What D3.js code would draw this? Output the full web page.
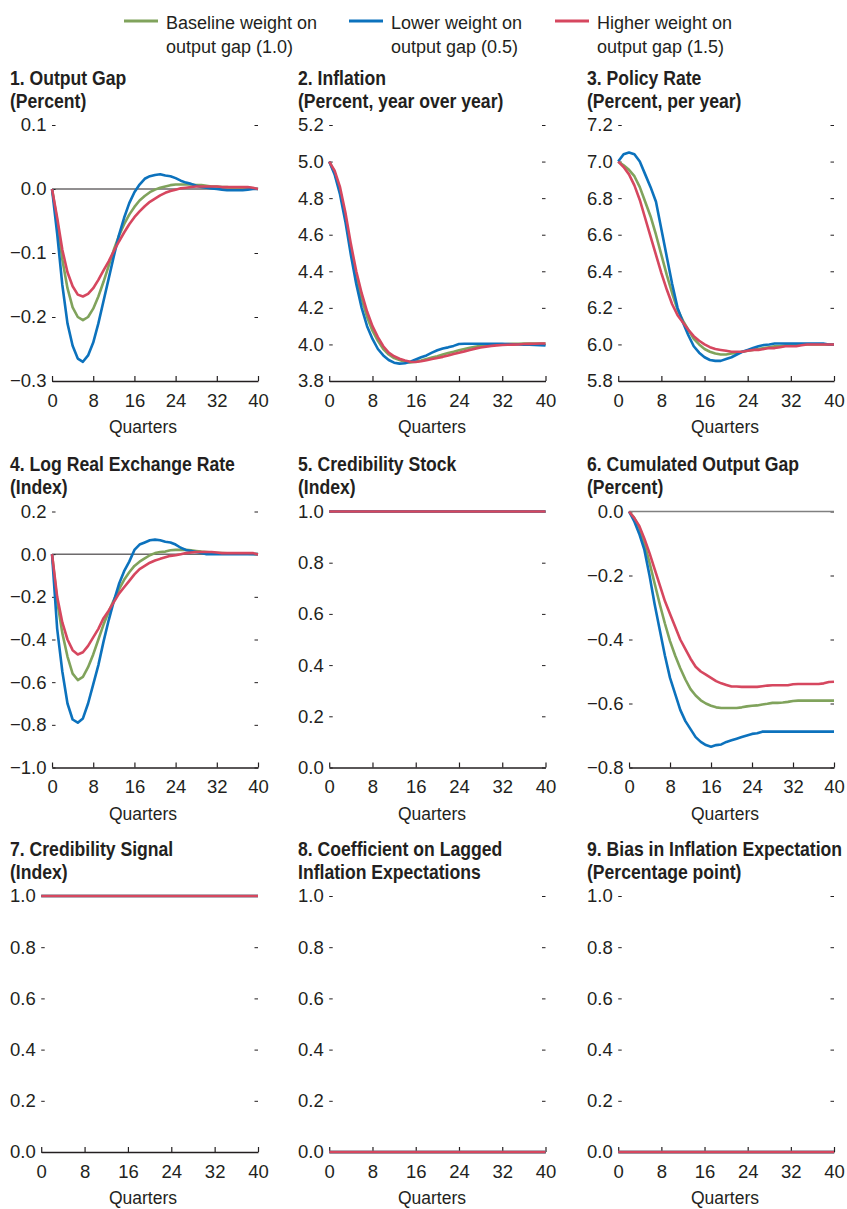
<!DOCTYPE html>
<html>
<head>
<meta charset="utf-8">
<script src="https://cdn.jsdelivr.net/npm/d3@7"></script>
<style>
  body { margin: 0; background: #ffffff; }
  svg { display: block; font-family: "Liberation Sans", Arial, Helvetica, sans-serif; }
</style>
</head>
<body>
<svg id="chart" width="847" height="1209"></svg>
<script>
// ---------- data ----------
const quarters = d3.range(0, 41);
const xTicks = [0, 8, 16, 24, 32, 40];

const scenarioLabels = [
  ["Baseline weight on", "output gap (1.0)"],
  ["Lower weight on", "output gap (0.5)"],
  ["Higher weight on", "output gap (1.5)"]
];

const panelTitles = [
  ["1. Output Gap", "(Percent)"],
  ["2. Inflation", "(Percent, year over year)"],
  ["3. Policy Rate", "(Percent, per year)"],
  ["4. Log Real Exchange Rate", "(Index)"],
  ["5. Credibility Stock", "(Index)"],
  ["6. Cumulated Output Gap", "(Percent)"],
  ["7. Credibility Signal", "(Index)"],
  ["8. Coefficient on Lagged", "Inflation Expectations"],
  ["9. Bias in Inflation Expectation", "(Percentage point)"]
];

const yTicksOutputGap = [-0.3, -0.2, -0.1, 0.0, 0.1];
const yTicksInflation = [3.8, 4.0, 4.2, 4.4, 4.6, 4.8, 5.0, 5.2];
const yTicksPolicyRate = [5.8, 6.0, 6.2, 6.4, 6.6, 6.8, 7.0, 7.2];
const yTicksExchangeRate = [-1.0, -0.8, -0.6, -0.4, -0.2, 0.0, 0.2];
const yTicksUnit = [0.0, 0.2, 0.4, 0.6, 0.8, 1.0];
const yTicksCumGap = [-0.8, -0.6, -0.4, -0.2, 0.0];

// 1. Output gap
const outputGapBaseline = [0, -0.05, -0.11, -0.155, -0.185, -0.2, -0.205, -0.2, -0.187, -0.168, -0.145, -0.12, -0.095, -0.073, -0.055, -0.04, -0.028, -0.018, -0.011, -0.005, -0.001, 0.002, 0.004, 0.006, 0.007, 0.007, 0.007, 0.007, 0.006, 0.006, 0.005, 0.004, 0.004, 0.003, 0.003, 0.002, 0.002, 0.002, 0.002, 0.001, 0.0];
const outputGapLower = [0, -0.07, -0.15, -0.21, -0.245, -0.265, -0.27, -0.26, -0.24, -0.21, -0.175, -0.14, -0.105, -0.072, -0.045, -0.022, -0.005, 0.007, 0.016, 0.02, 0.022, 0.023, 0.021, 0.02, 0.017, 0.013, 0.01, 0.008, 0.005, 0.003, 0.002, 0.001, 0.0, -0.001, -0.002, -0.002, -0.002, -0.002, -0.001, 0.0, 0.0];
const outputGapHigher = [0, -0.045, -0.095, -0.13, -0.152, -0.165, -0.168, -0.164, -0.155, -0.142, -0.127, -0.113, -0.097, -0.082, -0.068, -0.055, -0.044, -0.035, -0.027, -0.02, -0.015, -0.01, -0.006, -0.003, -0.001, 0.001, 0.002, 0.003, 0.004, 0.004, 0.004, 0.004, 0.004, 0.003, 0.003, 0.003, 0.003, 0.003, 0.003, 0.002, 0.0];

// 2. Inflation
const inflationBaseline = [5.0, 4.94, 4.84, 4.7, 4.52, 4.37, 4.25, 4.15, 4.075, 4.02, 3.975, 3.945, 3.925, 3.915, 3.905, 3.902, 3.905, 3.912, 3.92, 3.928, 3.936, 3.945, 3.953, 3.96, 3.968, 3.975, 3.982, 3.987, 3.992, 3.995, 3.998, 4.0, 4.0, 4.002, 4.003, 4.004, 4.005, 4.005, 4.005, 4.005, 4.005];
const inflationLower = [5.0, 4.93, 4.82, 4.67, 4.49, 4.33, 4.2, 4.1, 4.03, 3.975, 3.94, 3.915, 3.9, 3.895, 3.897, 3.905, 3.918, 3.93, 3.94, 3.955, 3.968, 3.978, 3.984, 3.992, 4.002, 4.004, 4.004, 4.004, 4.004, 4.004, 4.004, 4.004, 4.003, 4.002, 4.001, 4.0, 3.999, 3.998, 3.997, 3.996, 3.995];
const inflationHigher = [5.0, 4.95, 4.86, 4.72, 4.55, 4.4, 4.28, 4.18, 4.1, 4.04, 3.99, 3.955, 3.935, 3.922, 3.912, 3.905, 3.904, 3.908, 3.913, 3.92, 3.926, 3.932, 3.94, 3.948, 3.955, 3.962, 3.97, 3.977, 3.983, 3.988, 3.992, 3.995, 3.997, 3.998, 3.999, 4.0, 4.002, 4.003, 4.004, 4.005, 4.005];

// 3. Policy rate
const policyRateBaseline = [7.0, 6.98, 6.955, 6.92, 6.86, 6.78, 6.7, 6.6, 6.49, 6.38, 6.28, 6.19, 6.13, 6.08, 6.03, 6.0, 5.975, 5.96, 5.95, 5.945, 5.945, 5.95, 5.955, 5.96, 5.965, 5.97, 5.975, 5.98, 5.985, 5.99, 5.99, 5.995, 5.995, 6.0, 6.0, 6.0, 6.0, 6.0, 6.0, 6.0, 6.0];
const policyRateLower = [7.0, 7.04, 7.05, 7.04, 7.0, 6.93, 6.86, 6.78, 6.63, 6.48, 6.33, 6.2, 6.12, 6.05, 5.99, 5.955, 5.93, 5.915, 5.91, 5.91, 5.92, 5.93, 5.945, 5.96, 5.97, 5.98, 5.99, 5.997, 6.0, 6.005, 6.005, 6.005, 6.005, 6.005, 6.005, 6.005, 6.005, 6.005, 6.005, 6.0, 6.0];
const policyRateHigher = [7.0, 6.97, 6.93, 6.87, 6.79, 6.69, 6.59, 6.49, 6.39, 6.3, 6.22, 6.16, 6.12, 6.08, 6.045, 6.02, 6.0, 5.985, 5.975, 5.97, 5.965, 5.96, 5.96, 5.96, 5.965, 5.97, 5.97, 5.975, 5.98, 5.98, 5.985, 5.99, 5.99, 5.99, 5.995, 6.0, 6.0, 6.0, 6.0, 6.0, 6.0];

// 4. Log real exchange rate
const exchangeRateBaseline = [0, -0.22, -0.37, -0.48, -0.56, -0.59, -0.575, -0.53, -0.47, -0.4, -0.33, -0.27, -0.215, -0.165, -0.12, -0.085, -0.055, -0.035, -0.02, -0.005, 0.005, 0.01, 0.012, 0.018, 0.02, 0.02, 0.02, 0.018, 0.015, 0.012, 0.01, 0.008, 0.005, 0.005, 0.004, 0.004, 0.003, 0.003, 0.002, 0.001, 0.0];
const exchangeRateLower = [0, -0.35, -0.55, -0.7, -0.775, -0.79, -0.77, -0.7, -0.61, -0.52, -0.41, -0.31, -0.22, -0.14, -0.08, -0.035, 0.02, 0.045, 0.055, 0.065, 0.068, 0.065, 0.058, 0.055, 0.045, 0.03, 0.02, 0.015, 0.01, 0.005, 0.0, 0.0, 0.0, 0.0, 0.0, 0.0, 0.0, 0.0, 0.0, 0.0, 0.0];
const exchangeRateHigher = [0, -0.2, -0.32, -0.4, -0.45, -0.47, -0.46, -0.43, -0.39, -0.35, -0.3, -0.265, -0.225, -0.185, -0.155, -0.125, -0.095, -0.07, -0.055, -0.04, -0.03, -0.022, -0.015, -0.008, -0.005, 0.0, 0.005, 0.008, 0.01, 0.01, 0.01, 0.01, 0.008, 0.005, 0.005, 0.005, 0.005, 0.005, 0.005, 0.005, -0.002];

// 5. Credibility stock
const credStockBaseline = [1, 1, 1, 1, 1, 1, 1, 1, 1, 1, 1, 1, 1, 1, 1, 1, 1, 1, 1, 1, 1, 1, 1, 1, 1, 1, 1, 1, 1, 1, 1, 1, 1, 1, 1, 1, 1, 1, 1, 1, 1];
const credStockLower = [1, 1, 1, 1, 1, 1, 1, 1, 1, 1, 1, 1, 1, 1, 1, 1, 1, 1, 1, 1, 1, 1, 1, 1, 1, 1, 1, 1, 1, 1, 1, 1, 1, 1, 1, 1, 1, 1, 1, 1, 1];
const credStockHigher = [1, 1, 1, 1, 1, 1, 1, 1, 1, 1, 1, 1, 1, 1, 1, 1, 1, 1, 1, 1, 1, 1, 1, 1, 1, 1, 1, 1, 1, 1, 1, 1, 1, 1, 1, 1, 1, 1, 1, 1, 1];

// 6. Cumulated output gap
const cumGapBaseline = [0, -0.02, -0.05, -0.1, -0.16, -0.225, -0.29, -0.35, -0.405, -0.45, -0.49, -0.525, -0.555, -0.575, -0.59, -0.6, -0.607, -0.612, -0.614, -0.614, -0.614, -0.614, -0.612, -0.609, -0.607, -0.606, -0.603, -0.601, -0.598, -0.598, -0.597, -0.595, -0.592, -0.591, -0.591, -0.591, -0.591, -0.591, -0.591, -0.591, -0.591];
const cumGapLower = [0, -0.03, -0.07, -0.12, -0.2, -0.29, -0.37, -0.45, -0.52, -0.57, -0.62, -0.655, -0.68, -0.705, -0.72, -0.73, -0.735, -0.73, -0.728, -0.72, -0.715, -0.71, -0.705, -0.7, -0.695, -0.693, -0.688, -0.688, -0.688, -0.688, -0.688, -0.688, -0.688, -0.688, -0.688, -0.688, -0.688, -0.688, -0.688, -0.688, -0.688];
const cumGapHigher = [0, -0.02, -0.045, -0.085, -0.13, -0.18, -0.23, -0.28, -0.32, -0.36, -0.4, -0.43, -0.46, -0.485, -0.5, -0.51, -0.52, -0.53, -0.537, -0.542, -0.547, -0.547, -0.548, -0.548, -0.548, -0.548, -0.546, -0.544, -0.543, -0.543, -0.543, -0.543, -0.54, -0.539, -0.539, -0.539, -0.539, -0.539, -0.537, -0.533, -0.532];

// 7. Credibility signal
const credSignalBaseline = [1, 1, 1, 1, 1, 1, 1, 1, 1, 1, 1, 1, 1, 1, 1, 1, 1, 1, 1, 1, 1, 1, 1, 1, 1, 1, 1, 1, 1, 1, 1, 1, 1, 1, 1, 1, 1, 1, 1, 1, 1];
const credSignalLower = [1, 1, 1, 1, 1, 1, 1, 1, 1, 1, 1, 1, 1, 1, 1, 1, 1, 1, 1, 1, 1, 1, 1, 1, 1, 1, 1, 1, 1, 1, 1, 1, 1, 1, 1, 1, 1, 1, 1, 1, 1];
const credSignalHigher = [1, 1, 1, 1, 1, 1, 1, 1, 1, 1, 1, 1, 1, 1, 1, 1, 1, 1, 1, 1, 1, 1, 1, 1, 1, 1, 1, 1, 1, 1, 1, 1, 1, 1, 1, 1, 1, 1, 1, 1, 1];

// 8. Coefficient on lagged inflation expectations
const lagCoefBaseline = [0, 0, 0, 0, 0, 0, 0, 0, 0, 0, 0, 0, 0, 0, 0, 0, 0, 0, 0, 0, 0, 0, 0, 0, 0, 0, 0, 0, 0, 0, 0, 0, 0, 0, 0, 0, 0, 0, 0, 0, 0];
const lagCoefLower = [0, 0, 0, 0, 0, 0, 0, 0, 0, 0, 0, 0, 0, 0, 0, 0, 0, 0, 0, 0, 0, 0, 0, 0, 0, 0, 0, 0, 0, 0, 0, 0, 0, 0, 0, 0, 0, 0, 0, 0, 0];
const lagCoefHigher = [0, 0, 0, 0, 0, 0, 0, 0, 0, 0, 0, 0, 0, 0, 0, 0, 0, 0, 0, 0, 0, 0, 0, 0, 0, 0, 0, 0, 0, 0, 0, 0, 0, 0, 0, 0, 0, 0, 0, 0, 0];

// 9. Bias in inflation expectation
const biasBaseline = [0, 0, 0, 0, 0, 0, 0, 0, 0, 0, 0, 0, 0, 0, 0, 0, 0, 0, 0, 0, 0, 0, 0, 0, 0, 0, 0, 0, 0, 0, 0, 0, 0, 0, 0, 0, 0, 0, 0, 0, 0];
const biasLower = [0, 0, 0, 0, 0, 0, 0, 0, 0, 0, 0, 0, 0, 0, 0, 0, 0, 0, 0, 0, 0, 0, 0, 0, 0, 0, 0, 0, 0, 0, 0, 0, 0, 0, 0, 0, 0, 0, 0, 0, 0];
const biasHigher = [0, 0, 0, 0, 0, 0, 0, 0, 0, 0, 0, 0, 0, 0, 0, 0, 0, 0, 0, 0, 0, 0, 0, 0, 0, 0, 0, 0, 0, 0, 0, 0, 0, 0, 0, 0, 0, 0, 0, 0, 0];

// ---------- panel table ----------
const panels = [
  { title: panelTitles[0], ticks: yTicksOutputGap, zero: "black", series: [outputGapBaseline, outputGapLower, outputGapHigher] },
  { title: panelTitles[1], ticks: yTicksInflation, zero: null, series: [inflationBaseline, inflationLower, inflationHigher] },
  { title: panelTitles[2], ticks: yTicksPolicyRate, zero: null, series: [policyRateBaseline, policyRateLower, policyRateHigher] },
  { title: panelTitles[3], ticks: yTicksExchangeRate, zero: "black", series: [exchangeRateBaseline, exchangeRateLower, exchangeRateHigher] },
  { title: panelTitles[4], ticks: yTicksUnit, zero: null, series: [credStockBaseline, credStockLower, credStockHigher] },
  { title: panelTitles[5], ticks: yTicksCumGap, zero: "grey", series: [cumGapBaseline, cumGapLower, cumGapHigher] },
  { title: panelTitles[6], ticks: yTicksUnit, zero: null, series: [credSignalBaseline, credSignalLower, credSignalHigher] },
  { title: panelTitles[7], ticks: yTicksUnit, zero: null, series: [lagCoefBaseline, lagCoefLower, lagCoefHigher] },
  { title: panelTitles[8], ticks: yTicksUnit, zero: null, series: [biasBaseline, biasLower, biasHigher] }
];

// ---------- styling & layout ----------
const seriesColors = ["#80a35c", "#0c72bd", "#d6475f"];
const INK = "#231f20";
const FONT = '"Liberation Sans", Arial, Helvetica, sans-serif';
const colLeft = [10, 298, 587];
const colRight = [258, 545.5, 834];
const quartersCx = [143, 432, 725];
const rowTop = [125, 511.5, 896];
const plotH = 256;
const tickFont = 18.5;

const svg = d3.select("#chart");
const fmt = d3.format(".1f");

function addText(g, x, y, str, opt = {}) {
  const { size = 18.5, weight = "normal", anchor = "start", sx = 1 } = opt;
  return g.append("text")
    .attr("transform", `translate(${x},${y}) scale(${sx},1)`)
    .attr("text-anchor", anchor)
    .attr("font-family", FONT)
    .attr("font-size", size)
    .attr("font-weight", weight)
    .attr("fill", INK)
    .text(str);
}

// legend
const legendX = [124, 349, 555];
const legend = svg.append("g");
scenarioLabels.forEach((lab, i) => {
  legend.append("line")
    .attr("x1", legendX[i]).attr("x2", legendX[i] + 34)
    .attr("y1", 21).attr("y2", 21)
    .attr("stroke", seriesColors[i]).attr("stroke-width", 3);
  addText(legend, legendX[i] + 42, 28.5, lab[0], { size: 18 });
  addText(legend, legendX[i] + 42, 52.5, lab[1], { size: 18 });
});

// panels
panels.forEach((p, i) => {
  const r = Math.floor(i / 3), c = i % 3;
  const top = rowTop[r], bottom = top + plotH;

  // widest tick label decides where the plot starts
  const probe = svg.append("g").attr("font-family", FONT).attr("font-size", tickFont);
  let maxW = 0;
  p.ticks.forEach(t => {
    const w = probe.append("text").text(fmt(t)).node().getComputedTextLength();
    maxW = Math.max(maxW, w);
  });
  probe.remove();

  const x0 = colLeft[c] + maxW + 5.5, x1 = colRight[c];
  const x = d3.scaleLinear().domain([0, 40]).range([x0, x1]);
  const y = d3.scaleLinear().domain([p.ticks[0], p.ticks[p.ticks.length - 1]]).range([bottom, top]);

  const g = svg.append("g");

  // title
  addText(g, colLeft[c], top - 40.5, p.title[0], { size: 20, weight: "bold", sx: 0.88 });
  addText(g, colLeft[c], top - 17.5, p.title[1], { size: 20, weight: "bold", sx: 0.88 });

  // y labels
  const yl = g.append("g").attr("transform", `translate(${x0},0)`)
    .call(d3.axisLeft(y).tickValues(p.ticks).tickFormat(fmt).tickSize(0).tickPadding(5.5));
  yl.select(".domain").remove();
  yl.selectAll("text").attr("font-family", FONT).attr("font-size", tickFont).attr("fill", INK);

  // short inner dashes on both sides
  const yd = g.append("g").attr("transform", `translate(${x0},0)`)
    .call(d3.axisLeft(y).tickValues(p.ticks).tickSize(-3.5).tickFormat(""));
  yd.select(".domain").remove();
  yd.selectAll("line").attr("stroke", INK).attr("stroke-width", 1);
  const yr = g.append("g").attr("transform", `translate(${x1},0)`)
    .call(d3.axisRight(y).tickValues(p.ticks).tickSize(-3.5).tickFormat(""));
  yr.select(".domain").remove();
  yr.selectAll("line").attr("stroke", INK).attr("stroke-width", 1);

  // zero line
  if (p.zero) {
    g.append("line")
      .attr("x1", x0).attr("x2", x1)
      .attr("y1", y(0)).attr("y2", y(0))
      .attr("stroke", p.zero === "grey" ? "#808080" : INK)
      .attr("stroke-width", p.zero === "grey" ? 1.6 : 1);
  }

  // x axis
  const xa = g.append("g").attr("transform", `translate(0,${bottom})`)
    .call(d3.axisBottom(x).tickValues(xTicks).tickFormat(d3.format("d")).tickSizeInner(-5).tickSizeOuter(0));
  xa.select(".domain").attr("stroke", INK).attr("stroke-width", 1.3);
  xa.selectAll(".tick line").attr("stroke", INK).attr("stroke-width", 1.2);
  xa.selectAll("text").attr("y", 25.5).attr("dy", null)
    .attr("font-family", FONT).attr("font-size", tickFont).attr("fill", INK);

  addText(g, quartersCx[c], bottom + 52, "Quarters", { size: 17.5, anchor: "middle" });

  // series
  const line = d3.line().x((d, k) => x(quarters[k])).y(d => y(d));
  p.series.forEach((s, k) => {
    g.append("path")
      .datum(s)
      .attr("d", line)
      .attr("fill", "none")
      .attr("stroke", seriesColors[k])
      .attr("stroke-width", 2.6)
      .attr("stroke-linejoin", "round")
      .attr("stroke-linecap", "butt");
  });
});
</script>
</body>
</html>
